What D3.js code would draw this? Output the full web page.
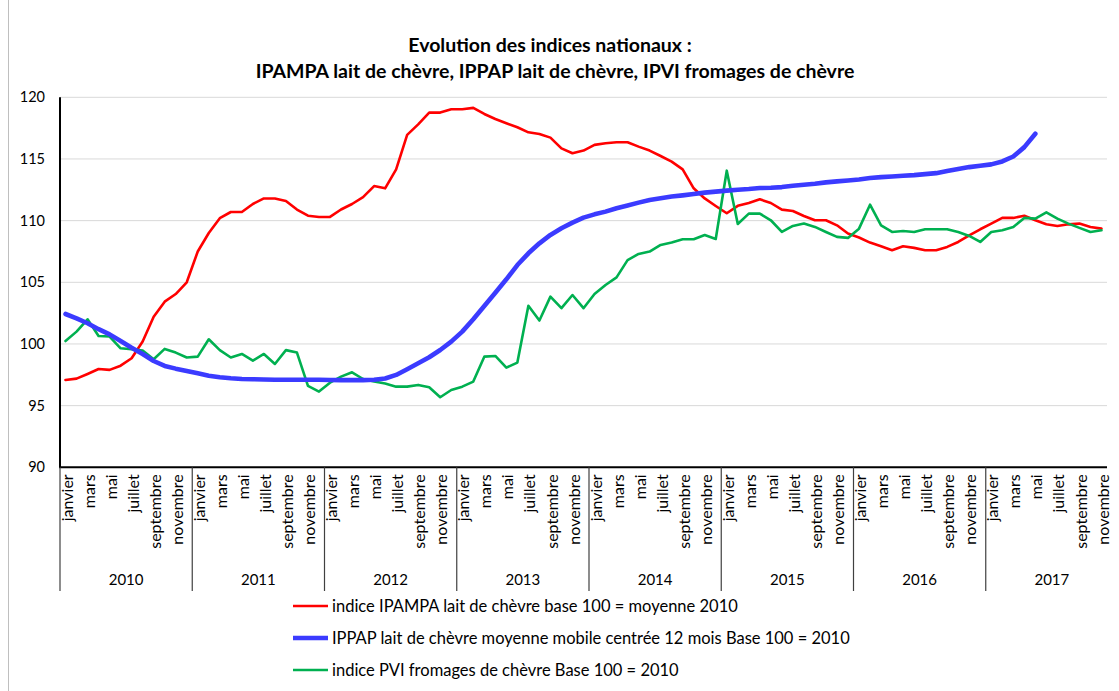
<!DOCTYPE html>
<html><head><meta charset="utf-8">
<script src="https://cdn.jsdelivr.net/npm/d3@7"></script>
<style>
html,body{margin:0;padding:0;background:#fff;}
svg{display:block;font-family:Lato,"Noto Sans",sans-serif;}
</style></head>
<body>
<svg id="chart" width="1119" height="691"></svg>
<script>
const years = [2010,2011,2012,2013,2014,2015,2016,2017];
const monthNames = ["janvier","février","mars","avril","mai","juin","juillet","août","septembre","octobre","novembre","décembre"];
const labelledMonths = ["janvier","mars","mai","juillet","septembre","novembre"];
const yTicks = [90,95,100,105,110,115,120];

const ipampa = [
97.08,97.19,97.57,97.97,97.9,98.24,98.84,100.2,102.2,103.43,104.05,105.0,
107.5,109.0,110.2,110.7,110.7,111.35,111.8,111.8,111.6,110.9,110.4,110.3,
110.3,110.9,111.35,111.9,112.8,112.62,114.16,116.95,117.8,118.76,118.76,119.03,
119.03,119.14,118.65,118.24,117.9,117.57,117.16,117.03,116.73,115.86,115.46,115.68,
116.14,116.27,116.35,116.35,116.0,115.68,115.24,114.78,114.16,112.62,111.8,111.19,
110.6,111.2,111.43,111.73,111.43,110.89,110.78,110.38,110.03,110.03,109.62,108.95,
108.63,108.22,107.92,107.6,107.92,107.79,107.6,107.6,107.87,108.27,108.81,109.3,
109.76,110.22,110.22,110.4,110.03,109.7,109.57,109.7,109.76,109.49,109.35
];
const ippap = [
102.43,102.08,101.68,101.2,100.78,100.24,99.7,99.19,98.62,98.22,98.0,97.81,
97.62,97.43,97.3,97.22,97.16,97.14,97.12,97.1,97.1,97.1,97.1,97.1,
97.08,97.07,97.07,97.07,97.1,97.2,97.49,97.95,98.43,98.92,99.51,100.19,
101.0,102.0,103.08,104.16,105.24,106.4,107.35,108.16,108.84,109.38,109.84,110.24,
110.51,110.73,111.0,111.22,111.46,111.68,111.81,111.95,112.05,112.16,112.27,112.35,
112.43,112.51,112.56,112.64,112.67,112.72,112.83,112.91,112.99,113.1,113.18,113.26,
113.34,113.45,113.53,113.58,113.64,113.69,113.77,113.85,114.02,114.18,114.34,114.45,
114.56,114.8,115.2,115.96,117.04
];
const ipvi = [
100.24,101.0,102.0,100.65,100.6,99.65,99.57,99.46,98.76,99.6,99.3,98.9,
98.97,100.38,99.5,98.9,99.19,98.65,99.19,98.38,99.5,99.3,96.6,96.14,
96.86,97.35,97.7,97.16,96.95,96.8,96.54,96.54,96.68,96.49,95.68,96.27,
96.54,96.95,98.97,99.03,98.08,98.49,103.1,101.9,103.84,102.9,103.97,102.9,
104.05,104.78,105.4,106.8,107.3,107.49,108.03,108.22,108.49,108.49,108.84,108.51,
114.05,109.73,110.57,110.57,110.03,109.08,109.57,109.76,109.49,109.08,108.68,108.6,
109.35,111.29,109.62,109.08,109.16,109.08,109.3,109.3,109.3,109.08,108.76,108.27,
109.08,109.22,109.49,110.22,110.16,110.67,110.16,109.76,109.41,109.08,109.22
];
const seriesNames = [
 "indice IPAMPA lait de chèvre base 100 = moyenne 2010",
 "IPPAP lait de chèvre moyenne mobile centrée 12 mois Base 100 = 2010",
 "indice PVI fromages de chèvre Base 100 = 2010"
];
const titleLines = ["Evolution des indices nationaux :","IPAMPA lait de chèvre, IPPAP lait de chèvre, IPVI fromages de chèvre"];

// categories
const categories = [];
years.forEach(y => monthNames.forEach(m => categories.push({key: y + "-" + m, year: y, month: m})));

const svg = d3.select("#chart");
const L = 60, R = 1107, T = 97.3, B = 467.3, bandEnd = 1118;
const FONT = "Lato,'Noto Sans',sans-serif";

const x = d3.scaleBand().domain(categories.map(c => c.key)).range([L, bandEnd]).paddingInner(0).paddingOuter(0);
const y = d3.scaleLinear().domain([90,120]).range([B, T]);
const cx = k => x(k) + x.bandwidth()/2;

// outer frame line
svg.append("line").attr("x1",8.5).attr("x2",8.5).attr("y1",0).attr("y2",691).attr("stroke","#bfbfbf").attr("stroke-width",1);

// title
svg.append("text").attr("x",550).attr("y",52).attr("text-anchor","middle").attr("font-weight","bold").attr("font-size",19.5).attr("fill","#000").text(titleLines[0]);
svg.append("text").attr("x",555).attr("y",77.5).attr("text-anchor","middle").attr("font-weight","bold").attr("font-size",19.5).attr("fill","#000").text(titleLines[1]);

// gridlines
svg.append("g").selectAll("line").data(yTicks.filter(t => t > 90)).join("line")
  .attr("x1", L).attr("x2", R).attr("y1", d => y(d)).attr("y2", d => y(d))
  .attr("stroke", "#d9d9d9").attr("stroke-width", 1);

// y axis
const yAxis = d3.axisLeft(y).tickValues(yTicks).tickSize(0).tickPadding(15).tickFormat(d3.format("d"));
const gy = svg.append("g").attr("transform", `translate(${L},0)`).call(yAxis);
gy.select(".domain").remove();
gy.selectAll("text").attr("font-size", 14.5).attr("fill", "#000").attr("font-family",FONT);
svg.append("line").attr("x1",L).attr("x2",L).attr("y1",T).attr("y2",B).attr("stroke","#000").attr("stroke-width",2);

// lines
const line = d3.line().x((d,i) => cx(categories[i].key)).y(d => y(d));
const series = [
  {name: seriesNames[0], values: ipampa, color: "#ff0000", width: 2.6},
  {name: seriesNames[1], values: ippap, color: "#3b3bff", width: 4.6},
  {name: seriesNames[2], values: ipvi, color: "#00b050", width: 2.6}
];
const drawOrder = [series[0], series[2], series[1]];
svg.append("g").selectAll("path").data(drawOrder).join("path")
  .attr("d", s => line(s.values)).attr("fill","none")
  .attr("stroke", s => s.color).attr("stroke-width", s => s.width)
  .attr("stroke-linejoin","round").attr("stroke-linecap","round");

// x axis
svg.append("line").attr("x1",L-1).attr("x2",R).attr("y1",B).attr("y2",B).attr("stroke","#000").attr("stroke-width",2);

// month labels
const xAxis = d3.axisBottom(x).tickSize(0).tickFormat(k => { const c = categories.find(c => c.key === k); return labelledMonths.includes(c.month) ? c.month : ""; });
const gx = svg.append("g").attr("transform", `translate(0,${B})`).call(xAxis);
gx.select(".domain").remove();
gx.selectAll(".tick text")
  .attr("font-size", 16).attr("fill","#000").attr("font-family",FONT)
  .attr("transform","rotate(-90)").attr("text-anchor","end").attr("x",-7).attr("y",1.5).attr("dy","0.35em");

// year separators and labels
const yearStarts = years.map(yr => x(yr + "-janvier"));
svg.append("g").selectAll("line").data(yearStarts).join("line")
  .attr("x1", d => d).attr("x2", d => d).attr("y1", B).attr("y2", 591)
  .attr("stroke","#404040").attr("stroke-width",1.2);
svg.append("g").selectAll("text").data(years).join("text")
  .attr("x", yr => x(yr + "-janvier") + x.bandwidth()*6)
  .attr("y", 585).attr("text-anchor","middle").attr("font-size",15).attr("fill","#000")
  .text(d => d);

// legend
const leg = svg.append("g").selectAll("g").data(series).join("g")
  .attr("transform", (d,i) => `translate(293,${606 + i*32})`);
leg.append("line").attr("x1",0).attr("x2",35).attr("y1",0).attr("y2",0)
  .attr("stroke", d => d.color).attr("stroke-width", d => d.width);
leg.append("text").attr("x",39).attr("y",0).attr("dy","0.35em").attr("font-size",16.5).attr("fill","#000").text(d => d.name);
</script>
</body></html>
